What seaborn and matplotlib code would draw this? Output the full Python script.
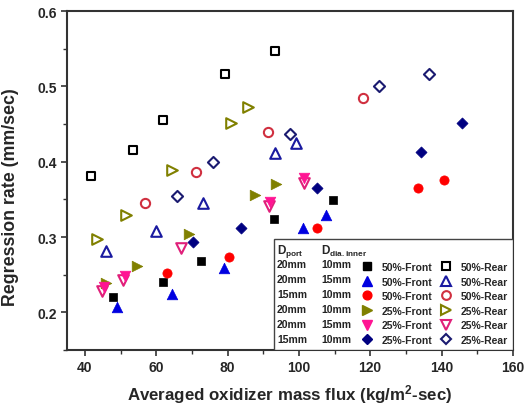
import matplotlib
matplotlib.use("Agg")
import matplotlib.pyplot as plt
from matplotlib.lines import Line2D
from matplotlib.patches import Rectangle
from matplotlib.ticker import MultipleLocator
import seaborn as sns

# ---- data ----
sq_front_x = [47.8, 61.9, 72.6, 93.0, 109.5]
sq_front_y = [0.220, 0.240, 0.268, 0.324, 0.349]
sq_rear_x = [41.7, 53.5, 61.9, 79.3, 93.4]
sq_rear_y = [0.381, 0.416, 0.456, 0.516, 0.547]
tri_front_x = [49.1, 64.5, 79.1, 101.3, 107.5]
tri_front_y = [0.207, 0.225, 0.259, 0.312, 0.329]
tri_rear_x = [45.9, 60.0, 73.2, 93.4, 99.3]
tri_rear_y = [0.281, 0.308, 0.345, 0.411, 0.425]
cir_front_x = [63.0, 80.5, 105.0, 133.3, 140.6]
cir_front_y = [0.252, 0.273, 0.312, 0.365, 0.376]
cir_rear_x = [56.9, 71.2, 91.4, 117.9]
cir_rear_y = [0.345, 0.386, 0.440, 0.485]
rt_front_x = [45.9, 54.6, 69.2, 87.8, 93.7]
rt_front_y = [0.239, 0.261, 0.304, 0.356, 0.371]
rt_rear_x = [43.4, 51.5, 64.5, 81.0, 85.8]
rt_rear_y = [0.297, 0.329, 0.389, 0.451, 0.473]
dt_front_x = [45.3, 51.2, 92.0, 101.5]
dt_front_y = [0.234, 0.248, 0.347, 0.378]
dt_rear_x = [44.8, 50.7, 67.0, 91.7, 101.5]
dt_rear_y = [0.229, 0.243, 0.285, 0.341, 0.372]
dm_front_x = [70.4, 83.8, 105.0, 134.2, 145.7]
dm_front_y = [0.293, 0.312, 0.365, 0.413, 0.452]
dm_rear_x = [65.9, 76.0, 97.6, 122.6, 136.4]
dm_rear_y = [0.355, 0.400, 0.437, 0.501, 0.517]

d_port = ["20mm", "20mm", "15mm", "20mm", "20mm", "15mm"]
d_inner = ["10mm", "15mm", "10mm", "10mm", "15mm", "10mm"]
front_labels = ["50%-Front"] * 3 + ["25%-Front"] * 3
rear_labels = ["50%-Rear"] * 3 + ["25%-Rear"] * 3

colors = ["#000000", "#0000e0", "#ff0000", "#808000", "#ff1493", "#000080"]
rear_colors = ["#000000", "#1a1aa0", "#d03040", "#808000", "#e0207a", "#1a1a70"]
markers = ["s", "^", "o", ">", "v", "D"]
sizes = [36, 58, 44, 58, 58, 32]

front = [(sq_front_x, sq_front_y), (tri_front_x, tri_front_y), (cir_front_x, cir_front_y),
         (rt_front_x, rt_front_y), (dt_front_x, dt_front_y), (dm_front_x, dm_front_y)]
rear = [(sq_rear_x, sq_rear_y), (tri_rear_x, tri_rear_y), (cir_rear_x, cir_rear_y),
        (rt_rear_x, rt_rear_y), (dt_rear_x, dt_rear_y), (dm_rear_x, dm_rear_y)]

sns.set_theme(style="ticks")
plt.rcParams["font.family"] = ["Liberation Sans", "DejaVu Sans"]
plt.rcParams["font.weight"] = "bold"
plt.rcParams["mathtext.fontset"] = "custom"
plt.rcParams["mathtext.rm"] = "Liberation Sans:bold"
plt.rcParams["mathtext.bf"] = "Liberation Sans:bold"
plt.rcParams["mathtext.it"] = "Liberation Sans:bold"

fig = plt.figure(figsize=(5.32, 4.14), dpi=100)
ax = fig.add_axes([0.126, 0.152, 0.838, 0.819])

for i in range(6):
    rx, ry = rear[i]
    sns.scatterplot(x=rx, y=ry, ax=ax, marker=markers[i], s=sizes[i],
                    facecolor="white", edgecolor=rear_colors[i], color=rear_colors[i],
                    linewidth=1.5, zorder=3)
for i in range(6):
    fx, fy = front[i]
    sns.scatterplot(x=fx, y=fy, ax=ax, marker=markers[i], s=sizes[i],
                    color=colors[i], edgecolor=colors[i], linewidth=0.5, zorder=4)

ax.set_xlim(35, 160)
ax.set_ylim(0.15, 0.6)
ax.xaxis.set_major_locator(MultipleLocator(20))
ax.xaxis.set_minor_locator(MultipleLocator(10))
ax.yaxis.set_major_locator(MultipleLocator(0.1))
ax.yaxis.set_minor_locator(MultipleLocator(0.05))
ax.tick_params(which="major", direction="out", length=4, width=1.2, color="#333333",
               labelsize=10, pad=3)
ax.tick_params(which="minor", direction="out", length=3, width=1.0, color="#333333")
for lab in ax.get_xticklabels() + ax.get_yticklabels():
    lab.set_fontweight("bold")
for sp in ax.spines.values():
    sp.set_linewidth(1.5)
    sp.set_color("#333333")

ax.set_xlabel(r"Averaged oxidizer mass flux (kg/m$^{2}$-sec)", fontsize=12.2,
              fontweight="bold", labelpad=6)
ax.set_ylabel("Regression rate (mm/sec)", fontsize=12.8, fontweight="bold")
ax.yaxis.set_label_coords(-0.108, 0.455)

# ---- legend table ----
ax.add_patch(Rectangle((0.464, 0.0), 0.536, 0.327, transform=ax.transAxes,
                       facecolor="white", edgecolor="#444444", linewidth=1.0, zorder=5))
handles = []
labels = []
for i in range(6):
    handles.append(Line2D([], [], linestyle="none", marker=markers[i], color=colors[i],
                          markersize=sizes[i] ** 0.5 * 0.95))
    labels.append(front_labels[i])
for i in range(6):
    handles.append(Line2D([], [], linestyle="none", marker=markers[i],
                          markerfacecolor="white", markeredgecolor=rear_colors[i],
                          markeredgewidth=1.5, markersize=sizes[i] ** 0.5 * 0.95))
    labels.append(rear_labels[i])
leg = ax.legend(handles, labels, ncol=2, loc="lower right", bbox_to_anchor=(1.0, 0.0),
                frameon=False, handlelength=1.0, handletextpad=0.9,
                columnspacing=0.8, labelspacing=0.44, borderaxespad=0.2, borderpad=0.3,
                prop={"weight": "bold", "size": 7.5})
leg.set_zorder(6)

row_y = [0.254, 0.209, 0.165, 0.121, 0.077, 0.032]
for i in range(6):
    ax.text(0.471, row_y[i], d_port[i], transform=ax.transAxes, fontsize=7.5,
            fontweight="bold", va="center", ha="left", color="#222222", zorder=7)
    ax.text(0.570, row_y[i], d_inner[i], transform=ax.transAxes, fontsize=7.5,
            fontweight="bold", va="center", ha="left", color="#222222", zorder=7)
ax.text(0.471, 0.293, r"D$_{\mathrm{port}}$", transform=ax.transAxes, fontsize=8.5,
        fontweight="bold", va="center", ha="left", zorder=7)
ax.text(0.570, 0.293, r"D$_{\mathrm{dia.inner}}$", transform=ax.transAxes, fontsize=8.5,
        fontweight="bold", va="center", ha="left", zorder=7)

fig.savefig("out.png", dpi=100)
